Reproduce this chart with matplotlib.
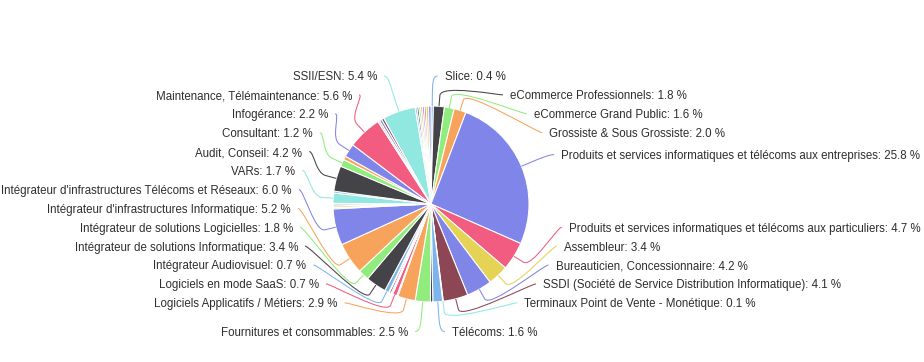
import numpy as np
import matplotlib
matplotlib.use("Agg")
import matplotlib.pyplot as plt
from matplotlib.path import Path
from matplotlib.patches import PathPatch

# parts du camembert, dans le sens horaire depuis midi ("" = part sans étiquette)
noms = [
    "Slice", "eCommerce Professionnels", "eCommerce Grand Public",
    "Grossiste & Sous Grossiste",
    "Produits et services informatiques et télécoms aux entreprises",
    "Produits et services informatiques et télécoms aux particuliers",
    "Assembleur", "Bureauticien, Concessionnaire",
    "SSDI (Société de Service Distribution Informatique)",
    "Terminaux Point de Vente - Monétique", "Télécoms", "",
    "Fournitures et consommables", "Logiciels Applicatifs / Métiers", "",
    "Logiciels en mode SaaS", "", "", "", "", "Intégrateur Audiovisuel",
    "Intégrateur de solutions Informatique", "Intégrateur de solutions Logicielles",
    "Intégrateur d'infrastructures Informatique",
    "Intégrateur d'infrastructures Télécoms et Réseaux", "", "", "", "",
    "VARs", "", "Audit, Conseil", "Consultant", "", "Infogérance",
    "Maintenance, Télémaintenance", "", "", "", "SSII/ESN",
    "", "", "", "", "", "", "", "",
]
valeurs = [
    0.4, 1.8, 1.6, 2.0, 25.8, 4.7, 3.4, 4.2, 4.1, 0.1, 1.6, 0.4,
    2.5, 2.9, 0.2, 0.7, 0.1, 0.2, 0.3, 0.1, 0.7, 3.4, 1.8, 5.2, 6.0,
    0.2, 0.3, 0.3, 0.1, 1.7, 0.3, 4.2, 1.2, 0.6, 2.2, 5.6, 0.3, 0.4, 0.4,
    5.4, 0.3, 0.3, 0.3, 0.3, 0.3, 0.3, 0.4, 0.4,
]
palette = ['#7cb5ec', '#434348', '#90ed7d', '#f7a35c', '#8085e9',
           '#f15c80', '#e4d354', '#8085e8', '#8d4653', '#91e8e1']

W, H = 924, 362
CX, CY, R = 431, 204, 98      # centre et rayon en pixels (y vers le bas)
DIST = 30                     # distance des étiquettes
PAS = 18.9                    # hauteur d'une case d'étiquette


def py(y):
    # pixel (y vers le bas) -> coordonnée de l'axe
    return H - y


def placer(points, cote):
    # répartition des étiquettes dans des cases, façon Highcharts
    cases = [CY - R - DIST + k * PAS for k in range(int((2 * (R + DIST)) // PAS) + 1)]
    ns, n = len(cases), len(points)
    libres = [True] * ns

    def libre_proche(k):
        k = min(max(k, 0), ns - 1)
        while k < ns and not libres[k]:
            k += 1
        if k >= ns:
            k = ns - 1
            while not libres[k]:
                k -= 1
        return k

    prises = []
    for j, (yn, i) in enumerate(points):
        k = int(np.argmin([abs(c - yn) for c in cases]))
        if k < j and j < ns and libres[j]:
            k = j
        elif ns < n - j + k and libres[min(j, ns - 1)]:
            k = libre_proche(ns - n + j)
        else:
            k = libre_proche(k)
        prises.append(k)
        libres[k] = False
    prises.sort()
    res = []
    for j, (yn, i) in enumerate(points):
        k = prises[j]
        y = cases[k]
        dessous = k + 1 >= ns or libres[k + 1]
        dessus = k - 1 < 0 or libres[k - 1]
        if (yn > y and dessous) or (yn < y and dessus):
            y = yn
        yx = yn if (k == 0 or k == ns - 1) else y
        dx = np.sqrt(max(0.0, (R + DIST) ** 2 - (yx - CY) ** 2))
        res.append((i, CX + cote * dx, y))
    return res


total = sum(valeurs)
couleurs = [palette[i % len(palette)] for i in range(len(valeurs))]

fig = plt.figure(figsize=(W / 100, H / 100), dpi=100)
ax = fig.add_axes([0, 0, 1, 1])
ax.pie(valeurs, colors=couleurs, startangle=90, counterclock=False,
       center=(CX, py(CY)), radius=R,
       wedgeprops=dict(edgecolor='white', linewidth=0.75))
ax.set_xlim(0, W)
ax.set_ylim(0, H)
ax.set_aspect('equal')
ax.axis('off')

# angle médian de chaque part (radians, sens horaire depuis midi)
cumul = np.cumsum(valeurs) - np.array(valeurs) / 2
theta = cumul / total * 2 * np.pi

droite, gauche = [], []
for i, nom in enumerate(noms):
    if not nom:
        continue
    yn = CY - (R + DIST) * np.cos(theta[i])
    (gauche if theta[i] > np.pi else droite).append((yn, i))
droite.sort()
gauche.sort()

for groupe, cote in ((droite, 1), (gauche, -1)):
    for i, x, y in placer(groupe, cote):
        t = theta[i]
        bx, by = CX + R * np.sin(t), CY - R * np.cos(t)
        mx, my = CX + (R + 11) * np.sin(t), CY - (R + 11) * np.cos(t)
        sommets = [(x + cote * 5, y), (x, y), (2 * mx - bx, 2 * my - by),
                   (mx, my), (bx, by)]
        codes = [Path.MOVETO, Path.CURVE4, Path.CURVE4, Path.CURVE4, Path.LINETO]
        chemin = Path([(a, py(b)) for a, b in sommets], codes)
        ax.add_patch(PathPatch(chemin, facecolor='none', edgecolor=couleurs[i],
                               linewidth=0.75))
        texte = f"{noms[i]}: {valeurs[i] / total * 100:.1f} %"
        ax.text(x + cote * 12, py(y + 1.5), texte,
                ha='left' if cote > 0 else 'right', va='center',
                fontsize=8.3, color='#2e2e2e', family='Liberation Sans')

fig.savefig("out.png", dpi=100, facecolor='white')
